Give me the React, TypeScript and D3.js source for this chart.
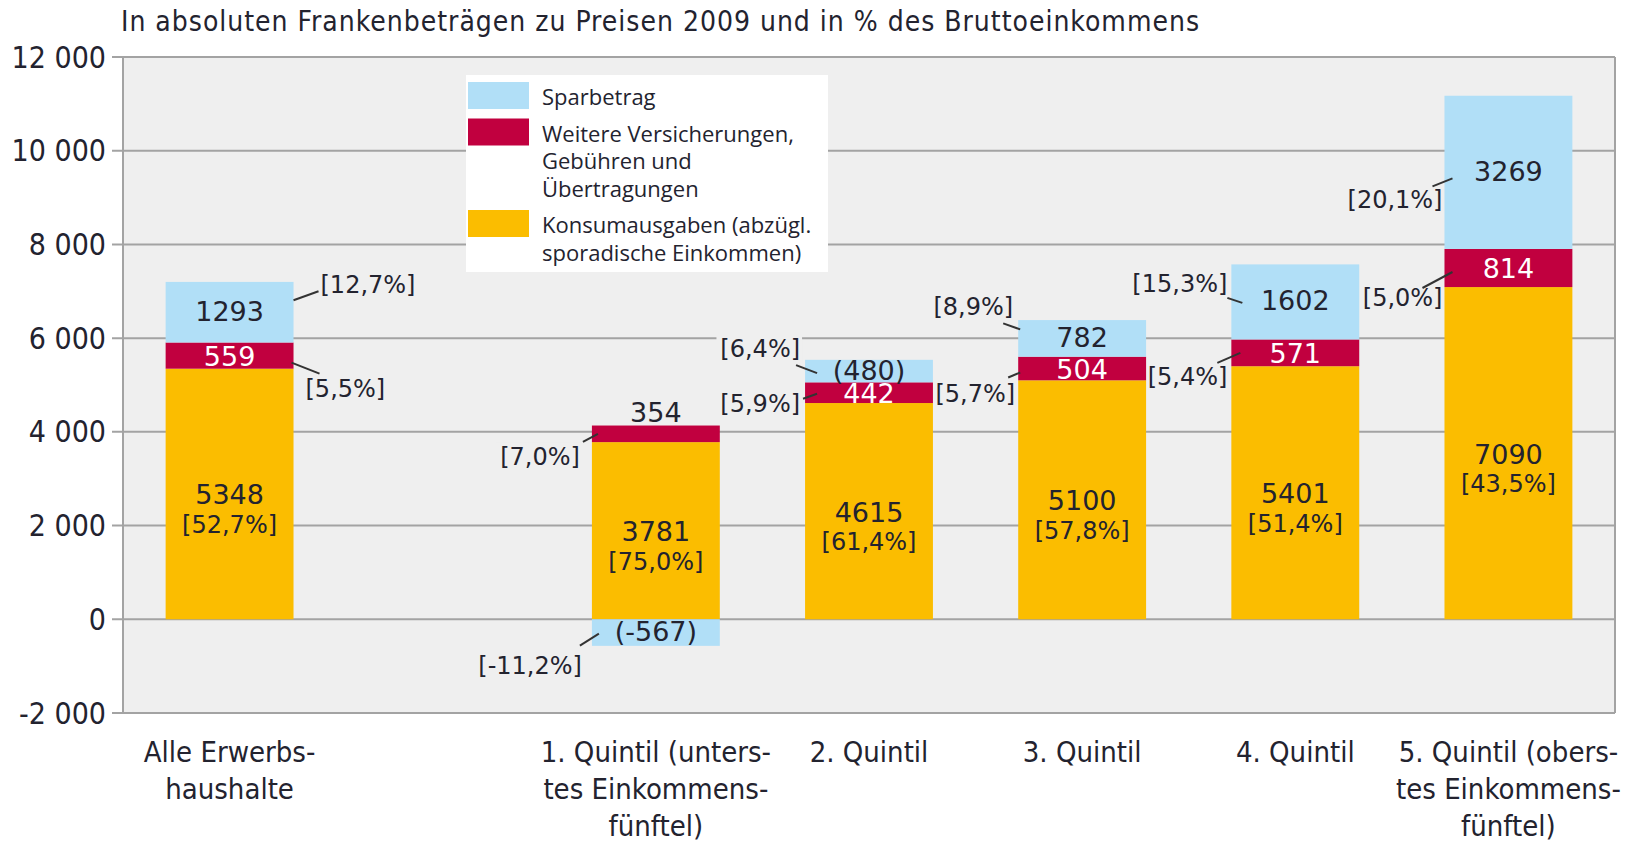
import React from "react";
import * as d3 from "d3";

// Haushaltsbudget der Erwerbshaushalte, Franken pro Monat (Preise 2009)
const groups = ["alle", "leer", "q1", "q2", "q3", "q4", "q5"];
const groupLabels = [
  ["Alle Erwerbs-", "haushalte"],
  [],
  ["1. Quintil (unters-", "tes Einkommens-", "fünftel)"],
  ["2. Quintil"],
  ["3. Quintil"],
  ["4. Quintil"],
  ["5. Quintil (obers-", "tes Einkommens-", "fünftel)"],
];
const konsum = [5348, 0, 3781, 4615, 5100, 5401, 7090];
const weitere = [559, 0, 354, 442, 504, 571, 814];
const spar = [1293, 0, -567, 480, 782, 1602, 3269];
const konsumPct = ["52,7", "", "75,0", "61,4", "57,8", "51,4", "43,5"];
const weiterePct = ["5,5", "", "7,0", "5,9", "5,7", "5,4", "5,0"];
const sparPct = ["12,7", "", "-11,2", "6,4", "8,9", "15,3", "20,1"];
const sparInParens = [false, false, true, true, false, false, false];
const yTicks = [-2000, 0, 2000, 4000, 6000, 8000, 10000, 12000];

const keys = ["konsum", "weitere", "spar"];
const colors: Record<string, string> = {
  spar: "#b1dff7",
  weitere: "#c1003f",
  konsum: "#fbbd00",
};
const legendItems = [
  { key: "spar", lines: ["Sparbetrag"] },
  { key: "weitere", lines: ["Weitere Versicherungen,", "Gebühren und", "Übertragungen"] },
  { key: "konsum", lines: ["Konsumausgaben (abzügl.", "sporadische Einkommen)"] },
];

// leader/label placement: side of bar, line start/end and text offset (px) from segment middle
type Place = { side: "l" | "r"; sx: number; sy: number; ex: number; ey: number; tx: number; ty: number };
const placeSpar: Record<string, Place> = {
  alle: { side: "r", sx: 0, sy: -12, ex: 25, ey: -21, tx: 27, ty: -27 },
  q1: { side: "l", sx: 7, sy: 1, ex: -12, ey: 13, tx: -10, ty: 33 },
  q2: { side: "l", sx: 12, sy: 2, ex: -9, ey: -6, tx: -5, ty: -22 },
  q3: { side: "l", sx: 2, sy: -9, ex: -15, ey: -15, tx: -5, ty: -31 },
  q4: { side: "l", sx: 11, sy: 1, ex: -4, ey: -4, tx: -4, ty: -18 },
  q5: { side: "l", sx: 8, sy: 6, ex: -12, ey: 14, tx: -2, ty: 28 },
};
const placeWeitere: Record<string, Place> = {
  alle: { side: "r", sx: -2, sy: 7, ex: 26, ey: 18, tx: 12, ty: 33 },
  q1: { side: "l", sx: 6, sy: 0, ex: -9, ey: 8, tx: -12, ty: 23 },
  q2: { side: "l", sx: 12, sy: 1, ex: -2, ey: 6, tx: -5, ty: 11 },
  q3: { side: "l", sx: 2, sy: 4, ex: -10, ey: 9, tx: -3, ty: 25 },
  q4: { side: "l", sx: 9, sy: 0, ex: -14, ey: 10, tx: -4, ty: 24 },
  q5: { side: "l", sx: 8, sy: 4, ex: -22, ey: 20, tx: -2, ty: 30 },
};

const W = 1636;
const H = 843;
const left = 123;
const right = 1615;
const top = 57;
const bottom = 713;
const plotBg = "#efefef";
const gridColor = "#a3a3a3";
const ink = "#23232f";
const condensed = "'DejaVu Sans Condensed', 'DejaVu Sans', sans-serif";
const labelFont = "'DejaVu Sans', sans-serif";
const legendFont = "'Open Sans', sans-serif";

const fmt = d3.formatLocale({
  decimal: ",",
  thousands: " ",
  grouping: [3],
  currency: ["", ""],
  minus: "-",
}).format(",");

const App = () => {
  const table = groups.map((g, i) => ({
    group: g,
    konsum: konsum[i],
    weitere: weitere[i],
    spar: spar[i],
  }));
  const series = d3
    .stack<any>()
    .keys(keys)
    .offset(d3.stackOffsetDiverging)(table);

  const x = d3
    .scaleBand()
    .domain(groups)
    .range([left, right])
    .paddingInner(0.4)
    .paddingOuter(0.2);
  const y = d3.scaleLinear().domain([-2000, 12000]).range([bottom, top]);
  const bw = x.bandwidth();

  const seg = (key: string, i: number) => {
    const s = series.find((d) => d.key === key)!;
    const [a, b] = s[i];
    return { y0: y(Math.max(a, b)), y1: y(Math.min(a, b)), mid: (y(a) + y(b)) / 2 };
  };

  // percentage annotations outside the bars
  const pctItems = groups.flatMap((g, i) =>
    g === "leer"
      ? []
      : [
          { g, i, key: "spar", text: sparPct[i], p: placeSpar[g] },
          { g, i, key: "weitere", text: weiterePct[i], p: placeWeitere[g] },
        ]
  ).map((d) => {
    const s = seg(d.key, d.i);
    const edge = d.p.side === "r" ? x(d.g)! + bw : x(d.g)!;
    const label = `[${d.text}%]`;
    return { ...d, s, edge, label, tx: edge + d.p.tx, ty: s.mid + d.p.ty, tw: label.length * 13.6 };
  });

  return (
    <svg
      width={W}
      height={H}
      style={{ position: "absolute", left: 0, top: 0, display: "block", background: "#fff" }}
    >
      <text
        x={121}
        y={31}
        fontFamily={condensed}
        fontStretch="condensed"
        fontSize={28}
        textLength={1078}
        lengthAdjust="spacing"
        fill={ink}
      >
        In absoluten Frankenbeträgen zu Preisen 2009 und in % des Bruttoeinkommens
      </text>

      {/* plot area */}
      <rect x={left} y={top} width={right - left} height={bottom - top} fill={plotBg} />
      {yTicks.map((t) => (
        <g key={t}>
          <line x1={left - 11} x2={right} y1={y(t)} y2={y(t)} stroke={gridColor} strokeWidth={2} />
          <text
            x={106}
            y={y(t)}
            textAnchor="end"
            dominantBaseline="central"
            fontFamily={condensed}
            fontStretch="condensed"
            fontSize={30}
            fill={ink}
          >
            {fmt(t)}
          </text>
        </g>
      ))}
      <line x1={left} x2={left} y1={top} y2={bottom} stroke={gridColor} strokeWidth={2} />
      <line x1={right} x2={right} y1={top} y2={bottom} stroke={gridColor} strokeWidth={2} />

      {/* label knock-outs over the gridlines, kept behind the bars */}
      {pctItems.map((d) => (
        <rect
          key={`bg-${d.key}-${d.g}`}
          x={d.p.side === "r" ? d.tx - 2 : d.tx - d.tw - 2}
          y={d.ty - 14}
          width={d.tw + 4}
          height={28}
          fill={plotBg}
        />
      ))}

      {/* legend */}
      <rect x={466} y={75} width={362} height={197} fill="#fff" />
      {(() => {
        let row = 0;
        return legendItems.map((it, k) => {
          const startRow = row;
          row += it.lines.length;
          const y0 = 96 + startRow * 27.5 + k * 9;
          return (
            <g key={it.key}>
              <rect x={468} y={y0 - 14} width={61} height={27} fill={colors[it.key]} />
              {it.lines.map((ln, j) => (
                <text
                  key={j}
                  x={542}
                  y={y0 + j * 27.5}
                  dominantBaseline="central"
                  fontFamily={legendFont}
                  fontSize={22}
                  fill={ink}
                >
                  {ln}
                </text>
              ))}
            </g>
          );
        });
      })()}

      {/* bars */}
      {series.map((s) => (
        <g key={s.key} fill={colors[s.key]}>
          {s.map((d, i) =>
            groups[i] === "leer" ? null : (
              <rect
                key={groups[i]}
                x={x(groups[i])}
                y={y(Math.max(d[0], d[1]))}
                width={bw}
                height={Math.abs(y(d[0]) - y(d[1]))}
              />
            )
          )}
        </g>
      ))}

      {/* value labels */}
      {groups.map((g, i) => {
        if (g === "leer") return null;
        const cx = x(g)! + bw / 2;
        const k = seg("konsum", i);
        const w = seg("weitere", i);
        const sp = seg("spar", i);
        const weitereInside = g !== "q1";
        return (
          <g key={g} fontFamily={labelFont} textAnchor="middle">
            <text x={cx} y={k.mid + 1} dominantBaseline="central" fontSize={27} fill={ink}>
              {konsum[i]}
            </text>
            <text x={cx} y={k.mid + 31} dominantBaseline="central" fontSize={24} fill={ink}>
              [{konsumPct[i]}%]
            </text>
            {weitereInside ? (
              <text x={cx} y={w.mid + 1} dominantBaseline="central" fontSize={27} fill="#fff">
                {weitere[i]}
              </text>
            ) : (
              <text x={cx} y={w.y0 - 13} dominantBaseline="central" fontSize={27} fill={ink}>
                {weitere[i]}
              </text>
            )}
            <text x={cx} y={sp.mid - 1} dominantBaseline="central" fontSize={27} fill={ink}>
              {sparInParens[i] ? `(${spar[i]})` : spar[i]}
            </text>
          </g>
        );
      })}

      {pctItems.map((d) => (
        <g key={`p-${d.key}-${d.g}`}>
          <line
            x1={d.edge + d.p.sx}
            y1={d.s.mid + d.p.sy}
            x2={d.edge + d.p.ex}
            y2={d.s.mid + d.p.ey}
            stroke="#333"
            strokeWidth={2}
          />
          <text
            x={d.tx}
            y={d.ty}
            textAnchor={d.p.side === "r" ? "start" : "end"}
            dominantBaseline="central"
            fontFamily={labelFont}
            fontSize={24}
            fill={ink}
          >
            {d.label}
          </text>
        </g>
      ))}

      {/* category labels */}
      {groups.map((g, i) => (
        <text
          key={`c-${g}`}
          x={x(g)! + bw / 2}
          y={752}
          textAnchor="middle"
          fontFamily={condensed}
          fontStretch="condensed"
          fontSize={29}
          fill={ink}
        >
          {groupLabels[i].map((ln, j) => (
            <tspan key={j} x={x(g)! + bw / 2} y={752 + j * 37} dominantBaseline="central">
              {ln}
            </tspan>
          ))}
        </text>
      ))}
    </svg>
  );
};

export default App;
